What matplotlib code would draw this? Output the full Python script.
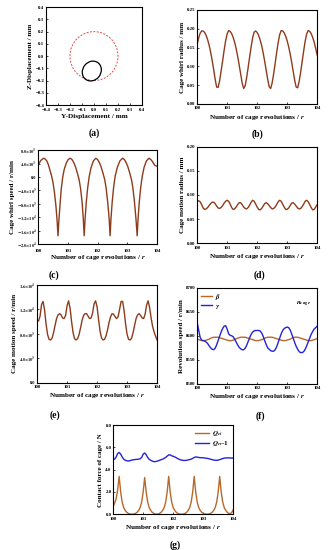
import numpy as np
import matplotlib
matplotlib.use('Agg')
import matplotlib.pyplot as plt
from matplotlib.patches import Circle, Ellipse

plt.rcParams['font.family'] = ['Liberation Serif', 'DejaVu Serif']
plt.rcParams['font.weight'] = 'bold'
plt.rcParams['mathtext.fontset'] = 'stix'

# ---- data ----
# (a) orbit: dashed reference circle and the cage centre loop
ref_radius = 0.2
loop_center = (-0.018, -0.122)
loop_w, loop_h, loop_angle = 0.17, 0.15, 50

# common revolution axis (0.05 r steps)
rev = np.linspace(100, 104, 81)

# (b) cage whirl radius / mm
whirl_r = [0.158, 0.175, 0.188, 0.194, 0.194, 0.190, 0.182, 0.171, 0.156, 0.138,
           0.116, 0.092, 0.066, 0.045, 0.044, 0.062, 0.088, 0.115, 0.143, 0.168,
           0.186, 0.195, 0.193, 0.187, 0.177, 0.164, 0.147, 0.127, 0.104, 0.080,
           0.056, 0.041, 0.048, 0.070, 0.097, 0.125, 0.152, 0.176, 0.191, 0.194,
           0.190, 0.182, 0.170, 0.155, 0.136, 0.114, 0.090, 0.066, 0.046, 0.041,
           0.056, 0.080, 0.108, 0.137, 0.163, 0.184, 0.195, 0.194, 0.189, 0.180,
           0.168, 0.152, 0.133, 0.111, 0.087, 0.063, 0.045, 0.043, 0.060, 0.085,
           0.113, 0.141, 0.167, 0.186, 0.195, 0.193, 0.187, 0.177, 0.164, 0.148,
           0.130]

# (c) cage whirl speed / r/min (own x points, sharp dips)
whirl_x = [100.00, 100.05, 100.10, 100.19, 100.25, 100.30, 100.35, 100.40, 100.45, 100.50,
           100.55, 100.60, 100.64, 100.67, 100.70, 100.74, 100.78, 100.83, 100.88, 100.95,
           101.01, 101.08, 101.14, 101.20, 101.26, 101.32, 101.38, 101.43, 101.48, 101.52,
           101.55, 101.58, 101.62, 101.67, 101.72, 101.78, 101.86, 101.94, 102.00, 102.06,
           102.12, 102.18, 102.24, 102.29, 102.34, 102.39, 102.42, 102.45, 102.49, 102.54,
           102.59, 102.66, 102.75, 102.84, 102.90, 102.96, 103.02, 103.08, 103.14, 103.19,
           103.24, 103.29, 103.33, 103.36, 103.40, 103.45, 103.50, 103.56, 103.64, 103.73,
           103.79, 103.85, 103.92, 104.00]
whirl_v = [3300, 4300, 5000, 5600, 5300, 4700, 3600, 2000, 500, -1500,
           -4500, -8500, -13000, -17500, -13000, -8000, -3500, 0, 2300, 4200,
           5200, 5600, 5200, 4300, 3000, 1200, -800, -3500, -7500, -12500,
           -17500, -12500, -7500, -3000, 200, 2800, 4800, 5600, 5200, 4300,
           3000, 1200, -800, -3500, -7500, -12500, -17500, -12500, -7500, -3000,
           200, 2800, 4800, 5600, 5200, 4300, 3000, 1200, -800, -3500,
           -7500, -12500, -17500, -12500, -7500, -3000, 200, 2800, 4800, 5600,
           5200, 4500, 3500, 3200]

# (d) cage motion radius / mm
motion_r = [0.086, 0.088, 0.086, 0.080, 0.073, 0.070, 0.071, 0.074, 0.078, 0.082,
            0.085, 0.085, 0.082, 0.077, 0.073, 0.072, 0.074, 0.078, 0.083, 0.087,
            0.089, 0.087, 0.081, 0.074, 0.070, 0.071, 0.075, 0.080, 0.084, 0.084,
            0.080, 0.075, 0.072, 0.071, 0.074, 0.079, 0.085, 0.089, 0.087, 0.081,
            0.075, 0.070, 0.069, 0.072, 0.077, 0.082, 0.084, 0.082, 0.078, 0.074,
            0.071, 0.072, 0.075, 0.080, 0.086, 0.089, 0.087, 0.081, 0.075, 0.070,
            0.070, 0.073, 0.078, 0.083, 0.084, 0.081, 0.077, 0.073, 0.071, 0.072,
            0.076, 0.081, 0.087, 0.089, 0.086, 0.080, 0.074, 0.069, 0.070, 0.075,
            0.080]

# (e) cage motion speed / r/min
motion_v = [10200, 10100, 10900, 12800, 13300, 11900, 9600, 7900, 7100, 7000,
            7300, 8200, 9400, 10500, 11100, 11300, 11100, 10600, 10500, 11000,
            12600, 13400, 12200, 10000, 8200, 7200, 7000, 7200, 7900, 9000,
            10200, 11000, 11300, 11300, 10900, 10500, 10600, 11400, 12900, 13400,
            12400, 10300, 8400, 7300, 7000, 7100, 7700, 8700, 9900, 10800,
            11300, 11200, 10800, 10500, 10800, 12000, 13300, 13300, 11800, 9600,
            7900, 7100, 7000, 7300, 8200, 9400, 10500, 11100, 11300, 11000,
            10600, 10500, 11200, 12700, 13400, 12300, 10600, 9200, 8300, 7600,
            7000]

# (f) revolution speed / r/min
rev_beta = [8594, 8592, 8591, 8590, 8590, 8590, 8591, 8592, 8593, 8595,
            8596, 8597, 8597, 8597, 8597, 8596, 8595, 8594, 8593, 8592,
            8591, 8590, 8590, 8590, 8591, 8592, 8594, 8595, 8596, 8597,
            8597, 8597, 8597, 8596, 8595, 8594, 8593, 8592, 8591, 8590,
            8590, 8590, 8591, 8592, 8593, 8595, 8596, 8597, 8597, 8597,
            8597, 8596, 8595, 8594, 8593, 8592, 8591, 8590, 8590, 8590,
            8591, 8592, 8593, 8595, 8596, 8597, 8597, 8597, 8596, 8595,
            8594, 8593, 8592, 8591, 8590, 8590, 8590, 8591, 8592, 8593,
            8594]
rev_gamma = [8628, 8612, 8597, 8591, 8590, 8589, 8587, 8584, 8579, 8575,
             8572, 8571, 8574, 8581, 8590, 8599, 8608, 8615, 8620, 8621,
             8614, 8604, 8601, 8600, 8598, 8593, 8587, 8581, 8576, 8573,
             8571, 8571, 8574, 8580, 8588, 8596, 8603, 8608, 8610, 8611,
             8611, 8611, 8610, 8606, 8599, 8590, 8582, 8575, 8572, 8569,
             8568, 8568, 8571, 8577, 8586, 8595, 8604, 8611, 8615, 8617,
             8618, 8617, 8612, 8604, 8595, 8586, 8578, 8572, 8567, 8565,
             8565, 8567, 8572, 8579, 8587, 8595, 8603, 8609, 8614, 8617,
             8620]

# (g) contact force of cage / N
q_ci = [0.70, 1.00, 1.40, 2.20, 3.40, 2.00, 1.10, 0.60, 0.35, 0.18,
        0.08, 0.03, 0.01, 0.01, 0.03, 0.08, 0.18, 0.35, 0.60, 1.10,
        2.00, 3.30, 2.00, 1.10, 0.60, 0.35, 0.18, 0.08, 0.03, 0.01,
        0.03, 0.08, 0.18, 0.35, 0.60, 1.10, 2.00, 3.40, 2.00, 1.10,
        0.60, 0.35, 0.18, 0.08, 0.03, 0.01, 0.01, 0.03, 0.08, 0.18,
        0.35, 0.60, 1.10, 2.00, 3.40, 2.00, 1.10, 0.60, 0.35, 0.18,
        0.08, 0.03, 0.01, 0.01, 0.03, 0.08, 0.18, 0.35, 0.60, 1.10,
        2.00, 3.40, 2.00, 1.10, 0.60, 0.35, 0.18, 0.08, 0.05, 0.15,
        0.40]
q_cr = [4.90, 4.95, 5.15, 5.45, 5.55, 5.40, 5.15, 4.95, 4.85, 4.80,
        4.78, 4.80, 4.85, 4.88, 4.90, 4.92, 4.93, 4.95, 4.98, 5.10,
        5.40, 5.50, 5.35, 5.10, 4.93, 4.85, 4.78, 4.73, 4.72, 4.75,
        4.80, 4.85, 4.90, 4.95, 5.02, 5.10, 5.22, 5.33, 5.33, 5.25,
        5.20, 5.15, 5.08, 5.00, 4.93, 4.88, 4.85, 4.83, 4.83, 4.85,
        4.88, 4.91, 4.95, 5.02, 5.10, 5.14, 5.13, 5.10, 5.08, 5.08,
        5.07, 5.05, 5.03, 5.01, 4.98, 4.94, 4.90, 4.87, 4.85, 4.84,
        4.86, 4.90, 4.95, 5.00, 5.04, 5.06, 5.06, 5.06, 5.05, 5.05,
        5.05]

rev_ticks = [100, 101, 102, 103, 104]
XLAB = 'Number of cage revolutions / $\\mathbfit{r}$'
LINE = '#8e3b1c'   # dark red-brown curve colour

fig = plt.figure(figsize=(3.28, 5.50), dpi=100)

def style(ax):
    # thin frame + tiny inward ticks, like the original
    for s in ax.spines.values():
        s.set_linewidth(0.8)
    ax.tick_params(direction='in', length=1.5, width=0.5, labelsize=3.5, pad=1.2)
    ax.tick_params(axis='x', pad=1.8)
    for t in ax.get_xticklabels() + ax.get_yticklabels():
        t.set_fontweight('bold')

def rev_axes(ax, ylab):
    ax.set_xlim(100, 104)
    ax.set_xticks(rev_ticks)
    ax.set_xlabel(XLAB, fontsize=5.2, fontweight='bold', labelpad=1.5)
    ax.set_ylabel(ylab, fontsize=5.0, fontweight='bold', labelpad=1.5)

def sci(v):
    if v == 0:
        return '0.0'
    e = int(np.floor(np.log10(abs(v))))
    return '$%.1f{\\times}10^{%d}$' % (v / 10**e, e)

# (a)
ax = fig.add_axes([0.140, 0.809, 0.293, 0.178])
ax.add_patch(Circle((0, 0), ref_radius, fill=False, ls=(0, (2, 1.5)), lw=0.7, color='#e04848'))
ax.add_patch(Ellipse(loop_center, loop_w, loop_h, angle=loop_angle, fill=False, lw=0.9, color='black'))
ax.set_xlim(-0.4, 0.4)
ax.set_ylim(-0.4, 0.4)
tk = [-0.4, -0.3, -0.2, -0.1, 0.0, 0.1, 0.2, 0.3, 0.4]
ax.set_xticks(tk)
ax.set_yticks(tk)
ax.set_xlabel('Y-Displacement / mm', fontsize=5.2, fontweight='bold', labelpad=1.5)
ax.set_ylabel('Z-Displacement / mm', fontsize=5.0, fontweight='bold', labelpad=1.5)
style(ax)
fig.text(94/328, 1-133/550, '(a)', ha='center', va='center', fontsize=7, fontweight='bold')

# (b)
ax = fig.add_axes([0.601, 0.811, 0.366, 0.171])
ax.plot(rev, whirl_r, color=LINE, lw=1.0)
ax.set_ylim(0, 0.25)
ax.set_yticks([0, 0.05, 0.10, 0.15, 0.20, 0.25])
ax.set_yticklabels(['0.00', '0.05', '0.10', '0.15', '0.20', '0.25'])
rev_axes(ax, 'Cage whirl radius / mm')
style(ax)
fig.text(257/328, 1-134/550, '(b)', ha='center', va='center', fontsize=7, fontweight='bold')

# (c)
ax = fig.add_axes([0.116, 0.556, 0.363, 0.171])
ax.plot(whirl_x, whirl_v, color=LINE, lw=1.0)
ax.set_ylim(-20000, 8000)
ct = [-20000, -16000, -12000, -8000, -4000, 0, 4000, 8000]
ax.set_yticks(ct)
ax.set_yticklabels([sci(v) for v in ct])
rev_axes(ax, 'Cage whirl speed / r/min')
style(ax)
ax.tick_params(axis='y', labelsize=3.2)
ax.tick_params(axis='x', pad=3.2)
ax.xaxis.labelpad = 0.5
fig.text(54/328, 1-275/550, '(c)', ha='center', va='center', fontsize=7, fontweight='bold')

# (d)
ax = fig.add_axes([0.601, 0.558, 0.366, 0.175])
ax.plot(rev, motion_r, color=LINE, lw=1.0)
ax.set_ylim(0, 0.20)
ax.set_yticks([0, 0.05, 0.10, 0.15, 0.20])
ax.set_yticklabels(['0.00', '0.05', '0.10', '0.15', '0.20'])
rev_axes(ax, 'Cage motion radius / mm')
style(ax)
fig.text(259/328, 1-275/550, '(d)', ha='center', va='center', fontsize=7, fontweight='bold')

# (e)
ax = fig.add_axes([0.113, 0.304, 0.366, 0.178])
ax.plot(rev, motion_v, color=LINE, lw=1.0)
ax.set_ylim(0, 16000)
et = [0, 4000, 8000, 12000, 16000]
ax.set_yticks(et)
ax.set_yticklabels([sci(v) for v in et])
rev_axes(ax, 'Cage motion speed / r/min')
style(ax)
ax.tick_params(axis='y', labelsize=3.2)
fig.text(55/328, 1-415/550, '(e)', ha='center', va='center', fontsize=7, fontweight='bold')

# (f)
ax = fig.add_axes([0.601, 0.302, 0.366, 0.175])
ax.plot(rev, rev_beta, color='#b8692a', lw=1.0, label='$\\beta$')
ax.plot(rev, rev_gamma, color='#2323d8', lw=1.0, label='$\\gamma$')
ax.set_ylim(8500, 8700)
ax.set_yticks([8500, 8550, 8600, 8650, 8700])
ax.text(103.55, 8665, '$n_{cage}$', fontsize=5, ha='center', va='center')
ax.legend(loc='upper left', fontsize=5, frameon=False, handlelength=1.6,
          handletextpad=0.4, labelspacing=0.1, borderaxespad=0.2)
rev_axes(ax, 'Revolution speed / r/min')
style(ax)
fig.text(260/328, 1-416/550, '(f)', ha='center', va='center', fontsize=7, fontweight='bold')

# (g)
ax = fig.add_axes([0.345, 0.065, 0.366, 0.162])
ax.plot(rev, q_ci, color='#b8692a', lw=1.0, label='$Q_{ci}$')
ax.plot(rev, q_cr, color='#2323d8', lw=1.0, label='$Q_{cr}$-1')
ax.set_ylim(0, 8)
ax.set_yticks([0, 2, 4, 6, 8])
ax.set_yticklabels(['0.0', '2.0', '4.0', '6.0', '8.0'])
ax.legend(loc='upper right', fontsize=5, frameon=False, handlelength=2.0,
          handletextpad=0.4, labelspacing=0.1, borderaxespad=0.2)
rev_axes(ax, 'Contact force of cage / N')
style(ax)
fig.text(175/328, 1-545/550, '(g)', ha='center', va='center', fontsize=7, fontweight='bold')

fig.savefig('out.png', dpi=100)
